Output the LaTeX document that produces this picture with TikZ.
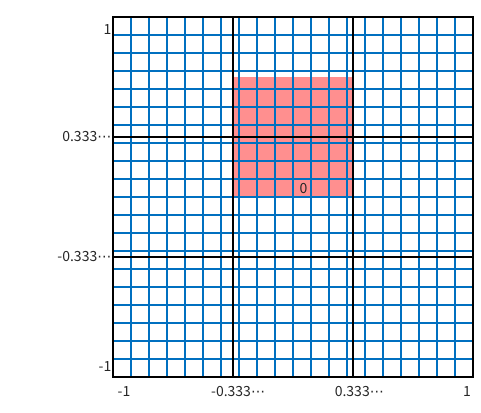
\documentclass[tikz,border=0pt]{standalone}
\usepackage{fontspec}
\setmainfont{Noto Sans CJK JP}
\newfontfamily\dejavu{DejaVu Sans}
\definecolor{gridblue}{RGB}{0,112,192}
\definecolor{pinkfill}{RGB}{255,143,143}
\newcommand{\mydots}{{\dejavu\char"22EF}}
\tikzset{
  gridline/.style={draw=gridblue, line width=1.3pt},
  gridzero/.style={draw=gridblue, line width=2pt},
  blackline/.style={draw=black, line width=2.6pt},
  framebox/.style={draw=black, line width=2.6pt},
  ticklab/.style={font=\fontsize{14}{16}\selectfont, text=black!85, inner sep=0pt},
}
\begin{document}
\begin{tikzpicture}[x=180pt,y=180pt]
\useasboundingbox (-1.62778,-1.19444) rectangle (1.04444,1.09444);
% pink region
\fill[pinkfill] (-1/3,0) rectangle (1/3,2/3);
% blue grid
\foreach \i in {-9,...,9} {
  \draw[gridline] (\i/10,-1) -- (\i/10,1);
}
\foreach \j in {-9,...,9} {
  \draw[gridline] (-1,\j/10) -- (1,\j/10);
}
\draw[gridzero] (0,-1) -- (0,1);
\draw[gridzero] (-1,0) -- (1,0);
% black third lines
\draw[blackline] (-1/3,-1) -- (-1/3,1);
\draw[blackline] (1/3,-1) -- (1/3,1);
\draw[blackline] (-1,-1/3) -- (1,-1/3);
\draw[blackline] (-1,1/3) -- (1,1/3);
% frame
\draw[framebox] (-1,-1) rectangle (1,1);
% label in region
\node[ticklab] (zero) at (0.0583,0.0444) {0};
% y labels
\node[ticklab, anchor=east] (y1) at (-1.0083,0.9306) {1};
\node[ticklab, anchor=east] (y2) at (-1.0083,0.3333) {0.333\mydots};
\node[ticklab, anchor=east] (y3) at (-1.0083,-0.3333) {-0.333\mydots};
\node[ticklab, anchor=east] (y4) at (-1.0083,-0.9417) {-1};
% x labels
\node[ticklab] (x1) at (-0.9389,-1.0806) {-1};
\node[ticklab] (x2) at (-0.3050,-1.0806) {-0.333\mydots};
\node[ticklab] (x3) at (0.3683,-1.0806) {0.333\mydots};
\node[ticklab] (x4) at (0.9667,-1.0806) {1};
\end{tikzpicture}
\end{document}
